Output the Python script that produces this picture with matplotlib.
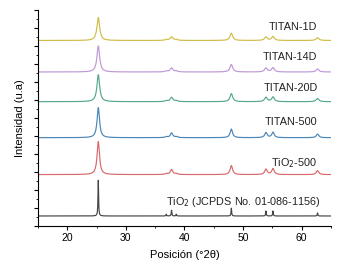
import numpy as np
import matplotlib.pyplot as plt
from matplotlib.ticker import MultipleLocator

plt.rcParams['font.family'] = ['Liberation Sans', 'DejaVu Sans']

# anatase reflections (deg 2theta)
peak_pos = [25.3, 36.9, 37.8, 38.6, 48.0, 53.9, 55.1, 62.7]

# pattern names, bottom to top
names = ['TiO$_2$ (JCPDS No. 01-086-1156)', 'TiO$_2$-500', 'TITAN-500',
         'TITAN-20D', 'TITAN-14D', 'TITAN-1D']
colors = ['#454545', '#d8686b', '#4a86b8', '#55a88c', '#bd98d6', '#cfbd4a']
baselines = [0.55, 2.85, 4.9, 6.9, 8.55, 10.3]
widths = [0.12, 0.5, 0.5, 0.55, 0.55, 0.55]

# peak heights above baseline for each pattern
heights = [
    [2.0, 0.10, 0.33, 0.10, 0.44, 0.28, 0.28, 0.17],
    [1.83, 0.05, 0.28, 0.05, 0.50, 0.30, 0.33, 0.22],
    [1.67, 0.05, 0.26, 0.05, 0.48, 0.28, 0.30, 0.20],
    [1.50, 0.05, 0.24, 0.05, 0.45, 0.24, 0.26, 0.18],
    [1.45, 0.05, 0.22, 0.05, 0.42, 0.22, 0.24, 0.17],
    [1.28, 0.05, 0.20, 0.05, 0.40, 0.20, 0.22, 0.16],
]

label_y = [1.3, 3.5, 5.75, 7.65, 9.4, 11.05]

tt = np.linspace(15, 65, 2000)

fig = plt.figure(figsize=(3.51, 2.67), dpi=100)
ax = fig.add_axes([0.108, 0.154, 0.835, 0.809])

for i in range(len(names)):
    w = widths[i] / 2
    y = np.full_like(tt, baselines[i])
    for p, h in zip(peak_pos, heights[i]):
        y += h * w**2 / ((tt - p)**2 + w**2)
    ax.plot(tt, y, color=colors[i], lw=0.85)
    ax.text(63.2 if i == 0 else 62.7, label_y[i], names[i], ha='right', va='center',
            fontsize=7.8, color='#222222')

ax.set_xlim(15, 65)
ax.set_ylim(0, 12)
ax.xaxis.set_major_locator(MultipleLocator(10))
ax.xaxis.set_minor_locator(MultipleLocator(5))
ax.yaxis.set_major_locator(MultipleLocator(1))
ax.yaxis.set_minor_locator(MultipleLocator(0.5))
ax.set_yticklabels([])
ax.tick_params(which='major', length=3, width=0.8, labelsize=7.5, pad=2)
ax.tick_params(which='minor', length=1.5, width=0.6)
for s in ['top', 'right']:
    ax.spines[s].set_visible(False)
for s in ['left', 'bottom']:
    ax.spines[s].set_linewidth(0.8)

ax.set_xlabel('Posición (°2θ)', fontsize=8, labelpad=5)
ax.set_ylabel('Intensidad (u.a)', fontsize=8, labelpad=4)

fig.savefig('out.png', dpi=100)
